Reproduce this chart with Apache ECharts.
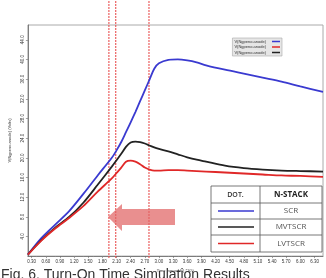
<!DOCTYPE html>
<html>
<head>
<meta charset="utf-8">
<script src="https://cdn.jsdelivr.net/npm/echarts@6/dist/echarts.min.js"></script>
<style>
  html, body { margin: 0; padding: 0; background: #fff; }
  #chart { width: 326px; height: 278px; }
</style>
</head>
<body>
<div id="chart"></div>
<script>
// time axis (seconds *10^-5)
var times = [0.22, 0.5, 0.8, 1.1, 1.4, 1.7, 2.0, 2.1, 2.2, 2.3, 2.4, 2.5, 2.6, 2.7, 2.8, 2.9, 3.0, 3.2, 3.4, 3.6, 3.8, 4.0, 4.4, 4.8, 5.2, 5.6, 6.0, 6.48];
var scr    = [0.3, 3.6, 6.4, 9.2, 12.7, 16.4, 20.0, 21.5, 23.2, 25.2, 27.2, 29.3, 31.5, 33.7, 35.9, 38.1, 39.2, 39.9, 40.0, 39.8, 39.4, 38.8, 37.9, 37.1, 36.3, 35.5, 34.5, 33.4];
var mvtscr = [0.3, 3.2, 5.8, 8.0, 10.9, 14.5, 18.2, 19.5, 20.8, 22.2, 23.1, 23.3, 23.2, 22.9, 22.5, 22.1, 21.8, 21.3, 20.7, 20.1, 19.6, 19.2, 18.4, 17.9, 17.6, 17.4, 17.3, 17.2];
var lvtscr = [0.3, 3.1, 5.6, 7.8, 10.2, 13.1, 15.8, 16.9, 18.0, 19.2, 19.4, 19.2, 18.7, 18.0, 17.6, 17.4, 17.4, 17.5, 17.5, 17.4, 17.3, 17.2, 17.0, 16.8, 16.6, 16.4, 16.3, 16.1];

var xTicks = [0.3, 0.6, 0.9, 1.2, 1.5, 1.8, 2.1, 2.4, 2.7, 3.0, 3.3, 3.6, 3.9, 4.2, 4.5, 4.8, 5.1, 5.4, 5.7, 6.0, 6.3];
var yTicks = [4, 8, 12, 16, 20, 24, 28, 32, 36, 40, 44];
var markerTimes = [2.1, 2.24, 2.92];

var tableHeader = ['DOT.', 'N-STACK'];
var tableNames = ['SCR', 'MVTSCR', 'LVTSCR'];
var tableColors = ['#3a3ad0', '#222222', '#e02828'];

function pairs(ys) {
  return times.map(function (t, i) { return [t, ys[i]]; });
}

var chart = echarts.init(document.getElementById('chart'));

// table legend (drawn as graphic)
var tbl = { x: 211, y: 186, w: 111, col: 49, rows: [17, 16, 16, 17] };
var tableEls = [];
var yy = tbl.y;
var totalH = tbl.rows.reduce(function (a, b) { return a + b; }, 0);
tableEls.push({ type: 'rect', shape: { x: tbl.x, y: tbl.y, width: tbl.w, height: totalH },
  style: { fill: '#fff', stroke: '#555', lineWidth: 0.8 } });
tableEls.push({ type: 'line', shape: { x1: tbl.x + tbl.col, y1: tbl.y, x2: tbl.x + tbl.col, y2: tbl.y + totalH },
  style: { stroke: '#555', lineWidth: 0.8 } });
tbl.rows.forEach(function (h, r) {
  if (r > 0) {
    tableEls.push({ type: 'line', shape: { x1: tbl.x, y1: yy, x2: tbl.x + tbl.w, y2: yy },
      style: { stroke: '#555', lineWidth: 0.8 } });
  }
  var cy = yy + h / 2;
  if (r === 0) {
    tableEls.push({ type: 'text', x: tbl.x + tbl.col / 2, y: cy,
      style: { text: tableHeader[0], fill: '#333', font: '600 7px "Open Sans"', align: 'center', verticalAlign: 'middle' } });
    tableEls.push({ type: 'text', x: tbl.x + tbl.col + (tbl.w - tbl.col) / 2, y: cy,
      style: { text: tableHeader[1], fill: '#222', font: 'bold 8px "Open Sans"', align: 'center', verticalAlign: 'middle' } });
  } else {
    tableEls.push({ type: 'line', shape: { x1: tbl.x + 7, y1: cy, x2: tbl.x + 43, y2: cy },
      style: { stroke: tableColors[r - 1], lineWidth: 1.3 } });
    tableEls.push({ type: 'text', x: tbl.x + tbl.col + (tbl.w - tbl.col) / 2, y: cy,
      style: { text: tableNames[r - 1], fill: '#555', font: '8px "Open Sans"', align: 'center', verticalAlign: 'middle' } });
  }
  yy += h;
});

// one dashed red series per marker time, on a full-height helper grid
var markerSeries = markerTimes.map(function (t, i) {
  return {
    name: 'marker' + i, type: 'line', xAxisIndex: 1, yAxisIndex: 1,
    data: [[t, 0], [t, 1]], showSymbol: false, silent: true, z: 1,
    lineStyle: { color: '#e85050', width: 1.1, type: [2, 1] },
    itemStyle: { color: '#e85050' }
  };
});

var option = {
  animation: false,
  backgroundColor: '#fff',
  textStyle: { fontFamily: 'Liberation Sans' },
  legend: {
    data: ['scr', 'lvtscr', 'mvtscr'],
    orient: 'vertical',
    right: 44,
    top: 38,
    align: 'right',
    itemWidth: 8,
    itemHeight: 1.5,
    itemGap: 1.5,
    padding: [1.5, 2],
    icon: 'rect',
    backgroundColor: '#e6e6e6',
    borderColor: '#aaa',
    borderWidth: 0.6,
    formatter: function () { return 'V(Ngpeno.anode)'; },
    textStyle: { fontSize: 4, color: '#333', padding: [0, 1, 0, 0] }
  },
  grid: [
    { left: 17, right: 3, top: 25, bottom: 20, show: true, borderColor: '#aaa', borderWidth: 1 },
    { left: 17, right: 3, top: 0, bottom: 20 }
  ],
  xAxis: [{
    type: 'value', gridIndex: 0, min: 0.22, max: 6.48,
    name: 'Time (seconds) *10\u207B\u2075', nameLocation: 'middle', nameGap: 9,
    nameTextStyle: { fontSize: 4, color: '#333' },
    axisLine: { lineStyle: { color: '#666', width: 0.8 } },
    axisTick: { customValues: xTicks, length: 2, lineStyle: { color: '#666', width: 0.6 } },
    minorTick: { show: true, splitNumber: 5, length: 1, lineStyle: { color: '#999', width: 0.5 } },
    axisLabel: { customValues: xTicks, fontSize: 4.5, color: '#333', margin: 3,
      formatter: function (v) { return v.toFixed(2); } },
    splitLine: { show: false }
  }, {
    type: 'value', gridIndex: 1, min: 0.22, max: 6.48, show: false
  }],
  yAxis: [{
    type: 'value', gridIndex: 0, min: 0, max: 47,
    name: 'V(Ngpeno.anode) (Volts)', nameLocation: 'middle', nameGap: 12,
    nameTextStyle: { fontSize: 4, color: '#333' },
    axisLine: { show: true, lineStyle: { color: '#666', width: 0.8 } },
    axisTick: { show: true, customValues: yTicks, length: 2, lineStyle: { color: '#666', width: 0.6 } },
    axisLabel: { customValues: yTicks, fontSize: 4.5, color: '#333', margin: 3, rotate: 90,
      formatter: function (v) { return v.toFixed(1); } },
    splitLine: { show: false }
  }, {
    type: 'value', gridIndex: 1, min: 0, max: 1, show: false
  }],
  series: [
    {
      name: 'scr', type: 'line', data: pairs(scr), smooth: 0.3, showSymbol: false,
      lineStyle: { color: tableColors[0], width: 1.8 }, itemStyle: { color: tableColors[0] }
    },
    {
      name: 'mvtscr', type: 'line', data: pairs(mvtscr), smooth: 0.3, showSymbol: false,
      lineStyle: { color: tableColors[1], width: 1.8 }, itemStyle: { color: tableColors[1] }
    },
    {
      name: 'lvtscr', type: 'line', data: pairs(lvtscr), smooth: 0.3, showSymbol: false,
      lineStyle: { color: tableColors[2], width: 1.8 }, itemStyle: { color: tableColors[2] }
    }
  ].concat(markerSeries),
  graphic: tableEls.concat([
    {
      type: 'polygon', z: 100,
      shape: { points: [[108, 217], [122, 204], [122, 209], [175, 209], [175, 225], [122, 225], [122, 231]] },
      style: { fill: 'rgba(225, 100, 100, 0.72)' }
    },
    {
      type: 'text', left: 1, top: 268, z: 100,
      style: { text: 'Fig. 6. Turn-On Time Simulation Results', fill: '#333', font: '14px "Liberation Sans"' }
    }
  ])
};

chart.setOption(option);
window.addEventListener('resize', function () { chart.resize(); });
</script>
</body>
</html>
